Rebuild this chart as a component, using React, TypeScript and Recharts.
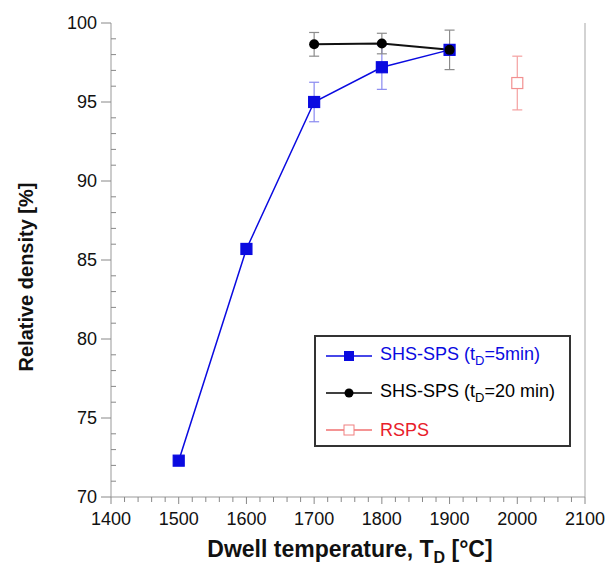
import React from 'react';
import { ComposedChart, Line, XAxis, YAxis, ErrorBar, Label, ReferenceLine } from 'recharts';

const FONT = '"Liberation Sans", Arial, sans-serif';

// SHS-SPS, dwell 5 min
const SHS5_TEMP = [1500, 1600, 1700, 1800, 1900];
const SHS5_DENSITY = [72.3, 85.7, 95.0, 97.2, 98.3];
const SHS5_ERR = [0, 0, 1.25, 1.4, 0];

// SHS-SPS, dwell 20 min
const SHS20_TEMP = [1700, 1800, 1900];
const SHS20_DENSITY = [98.65, 98.7, 98.3];
const SHS20_ERR = [0.75, 0.65, 1.25];

// RSPS
const RSPS_TEMP = [2000];
const RSPS_DENSITY = [96.2];
const RSPS_ERR = [1.7];

const X_MAJOR = [1400, 1500, 1600, 1700, 1800, 1900, 2000, 2100];
const Y_MAJOR = [70, 75, 80, 85, 90, 95, 100];

const xTicks = Array.from({ length: 36 }, (_, i) => 1400 + i * 20);
const yTicks = Array.from({ length: 31 }, (_, i) => 70 + i);

const toRows = (xs: number[], ys: number[], es: number[]) =>
  xs.map((x, i) => ({ x, y: ys[i], err: es[i] }));

const shs5 = toRows(SHS5_TEMP, SHS5_DENSITY, SHS5_ERR);
const shs20 = toRows(SHS20_TEMP, SHS20_DENSITY, SHS20_ERR);
const rsps = toRows(RSPS_TEMP, RSPS_DENSITY, RSPS_ERR);

const BLUE = '#0a0ae0';
const RED = '#e8202a';

function XTick({ x, y, payload }: any) {
  const major = X_MAJOR.includes(payload.value);
  return (
    <g>
      <line x1={x} x2={x} y1={y} y2={y + (major ? 7 : 5)} stroke="#888" />
      {major && (
        <text x={x} y={y + 28} textAnchor="middle" fontSize={18} fill="#111" fontFamily={FONT}>
          {payload.value}
        </text>
      )}
    </g>
  );
}

function YTick({ x, y, payload }: any) {
  const major = Y_MAJOR.includes(payload.value);
  return (
    <g>
      {major ? (
        <line x1={x - 10} x2={x} y1={y} y2={y} stroke="#888" />
      ) : (
        <line x1={x} x2={x + 5} y1={y} y2={y} stroke="#888" />
      )}
      {major && (
        <text x={x - 14} y={y} dy="0.35em" textAnchor="end" fontSize={18} fill="#111" fontFamily={FONT}>
          {payload.value}
        </text>
      )}
    </g>
  );
}

const squareDot = (fill: string, stroke: string) => (p: any) =>
  p.cx == null ? <g key={p.key} /> : (
    <rect key={p.key} x={p.cx - 5.5} y={p.cy - 5.5} width={11} height={11} fill={fill} stroke={stroke} strokeWidth={1.2} />
  );

const circleDot = (p: any) =>
  p.cx == null ? <g key={p.key} /> : <circle key={p.key} cx={p.cx} cy={p.cy} r={5} fill="#000" />;

function LegendRow({ color, marker, children }: any) {
  return (
    <div style={{ display: 'flex', alignItems: 'center', height: 37 }}>
      <svg width={50} height={14} style={{ marginRight: 6 }}>
        <line x1={2} x2={48} y1={7} y2={7} stroke={marker === 'open' ? '#f07070' : color} strokeWidth={1.5} />
        {marker === 'square' && <rect x={20} y={2} width={10} height={10} fill={color} />}
        {marker === 'circle' && <circle cx={25} cy={7} r={4.5} fill={color} />}
        {marker === 'open' && <rect x={20} y={2} width={10} height={10} fill="#fff" stroke="#f08080" />}
      </svg>
      <span style={{ color: marker === 'open' ? RED : color }}>{children}</span>
    </div>
  );
}

export default function App() {
  return (
    <div style={{ position: 'absolute', left: 0, top: 0, width: 606, height: 570, background: '#fff', fontFamily: FONT }}>
      <ComposedChart width={606} height={570} margin={{ top: 23, right: 21, bottom: 0, left: 0 }}>
        <XAxis
          dataKey="x"
          type="number"
          domain={[1400, 2100]}
          ticks={xTicks}
          interval={0}
          height={73}
          tickSize={0}
          tickMargin={0}
          tick={<XTick />}
          stroke="#999"
          allowDataOverflow
        >
          <Label
            content={() => (
              <text x={350} y={557} textAnchor="middle" fontSize={23} fontWeight="bold" fill="#111" fontFamily={FONT}>
                Dwell temperature, T
                <tspan fontSize={16} dy={6}>D</tspan>
                <tspan dy={-6}> [°C]</tspan>
              </text>
            )}
          />
        </XAxis>
        <XAxis xAxisId="top" orientation="top" type="number" domain={[1400, 2100]} height={0} tick={false} tickLine={false} stroke="#c4c4c4" strokeWidth={1.5} />
        <YAxis
          type="number"
          domain={[70, 100]}
          ticks={yTicks}
          interval={0}
          width={111}
          tickSize={0}
          tickMargin={0}
          tick={<YTick />}
          stroke="#999"
          allowDataOverflow
        >
          <Label
            content={() => (
              <text
                transform="rotate(-90)"
                x={-277}
                y={33}
                textAnchor="middle"
                fontSize={20}
                fontWeight="bold"
                fill="#111"
                fontFamily={FONT}
              >
                Relative density [%]
              </text>
            )}
          />
        </YAxis>
        <YAxis yAxisId="right" orientation="right" type="number" domain={[70, 100]} width={0} tick={false} tickLine={false} stroke="#c4c4c4" strokeWidth={1.5} />
        <ReferenceLine x={2100} stroke="#c4c4c4" strokeWidth={1.5} ifOverflow="visible" />

        <Line data={shs5} dataKey="y" stroke={BLUE} strokeWidth={1.5} dot={squareDot(BLUE, BLUE)} isAnimationActive={false}>
          <ErrorBar dataKey="err" direction="y" width={5} stroke="#8a8af0" strokeWidth={1.2} />
        </Line>
        <Line data={shs20} dataKey="y" stroke="#111" strokeWidth={2} dot={circleDot} isAnimationActive={false}>
          <ErrorBar dataKey="err" direction="y" width={5} stroke="#8c8c8c" strokeWidth={1.2} />
        </Line>
        <Line data={rsps} dataKey="y" stroke={RED} strokeWidth={1.5} dot={squareDot('#fff', '#f29090')} isAnimationActive={false}>
          <ErrorBar dataKey="err" direction="y" width={5} stroke="#f4a0a0" strokeWidth={1.2} />
        </Line>
      </ComposedChart>

      <div
        style={{
          position: 'absolute',
          left: 314,
          top: 335,
          width: 245,
          height: 108,
          border: '2px solid #333',
          fontSize: 18,
          padding: '0 0 0 8px',
          boxSizing: 'content-box',
          lineHeight: 1,
        }}
      >
        <LegendRow color={BLUE} marker="square">
          SHS-SPS (t<sub style={{ fontSize: 13 }}>D</sub>=5min)
        </LegendRow>
        <LegendRow color="#000" marker="circle">
          SHS-SPS (t<sub style={{ fontSize: 13 }}>D</sub>=20 min)
        </LegendRow>
        <LegendRow color={RED} marker="open">
          RSPS
        </LegendRow>
      </div>
    </div>
  );
}
